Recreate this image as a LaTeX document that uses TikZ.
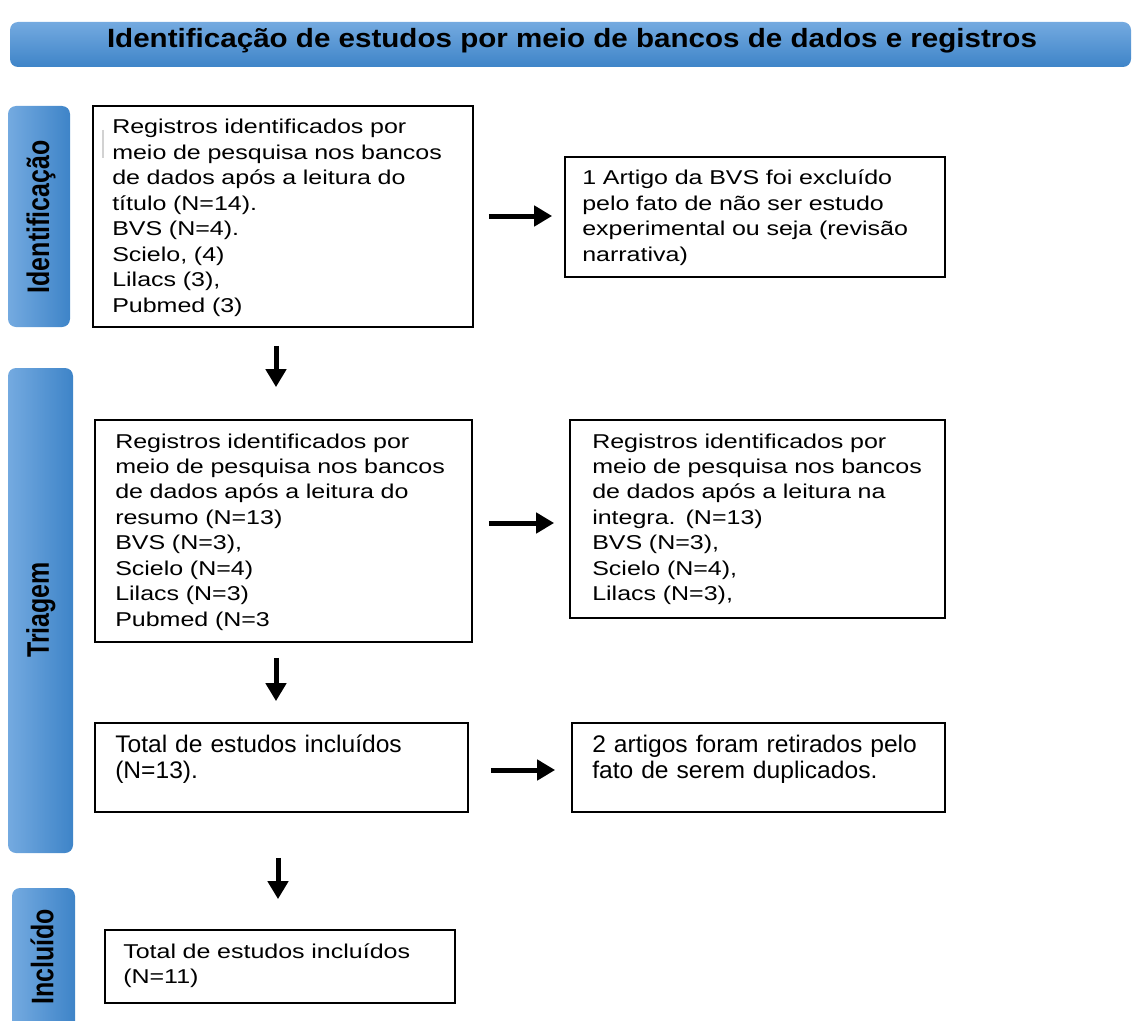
\documentclass[tikz,border=0pt]{standalone}
\usepackage{fontspec}
\setmainfont{Liberation Sans}
\newfontfamily\bodyf[FakeStretch=1.25]{Liberation Sans}
\newfontfamily\titlef[FakeStretch=1.12]{Liberation Sans}
\newfontfamily\narrowf[FakeStretch=1.025]{Liberation Sans}
\newfontfamily\sidef[FakeStretch=0.8]{Liberation Sans}
\usetikzlibrary{arrows.meta,fit}
\definecolor{barlight}{RGB}{116,170,224}
\definecolor{bardark}{RGB}{62,132,200}
\begin{document}
\begin{tikzpicture}[x=0.75pt,y=-0.75pt,
  box/.style={draw=black, line width=1.3pt, inner sep=0pt, fill=white},
  txt/.style={inner sep=0pt, anchor=base west, align=left, text width=300pt, font=\bodyf\fontsize{15}{19.1}\selectfont},
  ntxt/.style={txt, font=\narrowf\fontsize{18}{19.5}\selectfont},
  sidebar/.style={inner sep=0pt, rounded corners=6pt, left color=barlight, right color=bardark, draw=none},
  sidelbl/.style={rotate=90, inner sep=0pt, font=\sidef\bfseries\fontsize{23.4}{26}\selectfont},
  arr/.style={line width=3.75pt, -{Triangle[length=13.5pt,width=15pt]}},
]
\useasboundingbox (0,0) rectangle (1134,1020);
\clip (0,0) rectangle (1134,1020);

% title bar
\node[fit={(10,22) (1131,67)}, inner sep=0pt, rounded corners=6pt, top color=barlight, bottom color=bardark] (title) {};
\node[anchor=base, inner sep=0pt, font=\titlef\bfseries\fontsize{19.8}{22}\selectfont] (titletxt) at (572,48) {Identificação de estudos por meio de bancos de dados e registros};

% side bars
\node[sidebar, fit={(8,106) (70,327)}] (s1) {};
\node[sidebar, fit={(8,368) (73,853)}] (s2) {};
\node[sidebar, fit={(12,888) (75,1040)}] (s3) {};
\node[sidelbl] (l1) at (41,217) {Identificação};
\node[sidelbl] (l2) at (41,610) {Triagem};
\node[sidelbl] (l3) at (42,957) {Incluído};

% boxes
\node[box, fit={(93,106) (473,327)}] (b1) {};
\node[box, fit={(565,157) (945,277)}] (b2) {};
\node[box, fit={(95,420) (472,642)}] (b3) {};
\node[box, fit={(570,420) (945,618)}] (b4) {};
\node[box, fit={(95,723) (468,812)}] (b5) {};
\node[box, fit={(572,723) (945,812)}] (b6) {};
\node[box, fit={(105,930) (455,1003)}] (b7) {};

\draw[gray!35, line width=0.8pt] (103,130) -- (103,158);

% texts
\node[txt] (t1) at (112,134) {Registros identificados por\\meio de pesquisa nos bancos\\de dados após a leitura do\\título (N=14).\\BVS (N=4).\\Scielo, (4)\\Lilacs (3),\\Pubmed (3)};
\node[txt] (t2) at (582,185) {1 Artigo da BVS foi excluído\\pelo fato de não ser estudo\\experimental ou seja (revisão\\narrativa)};
\node[txt] (t3) at (115,448) {Registros identificados por\\meio de pesquisa nos bancos\\de dados após a leitura do\\resumo (N=13)\\BVS (N=3),\\Scielo (N=4)\\Lilacs (N=3)\\Pubmed (N=3};
\node[txt] (t4) at (592,448) {Registros identificados por\\meio de pesquisa nos bancos\\de dados após a leitura na\\integra. (N=13)\\BVS (N=3),\\Scielo (N=4),\\Lilacs (N=3),};
\node[ntxt] (t5) at (115,752) {Total de estudos incluídos\\(N=13).};
\node[ntxt] (t6) at (592,752) {2 artigos foram retirados pelo\\fato de serem duplicados.};
\node[txt] (t7) at (123,958) {Total de estudos incluídos\\(N=11)};

% connectors
\coordinate (h1) at (0,216);
\coordinate (h2) at (0,523);
\coordinate (h3) at (0,770);
\coordinate (v1) at (276,0);
\coordinate (v3) at (278,0);
\draw[arr, shorten <=11.25pt, shorten >=9pt] (b1.east |- h1) -- (b2.west |- h1);
\draw[arr, shorten <=12pt, shorten >=11.25pt] (b3.east |- h2) -- (b4.west |- h2);
\draw[arr, shorten <=16.5pt, shorten >=12pt] (b5.east |- h3) -- (b6.west |- h3);
\draw[arr, shorten <=13.5pt, shorten >=24pt] (b1.south -| v1) -- (b3.north -| v1);
\draw[arr, shorten <=11.25pt, shorten >=15.75pt] (b3.south -| v1) -- (b5.north -| v1);
\draw[arr, shorten <=33.75pt, shorten >=22.5pt] (b5.south -| v3) -- (b7.north -| v3);
\end{tikzpicture}
\end{document}
